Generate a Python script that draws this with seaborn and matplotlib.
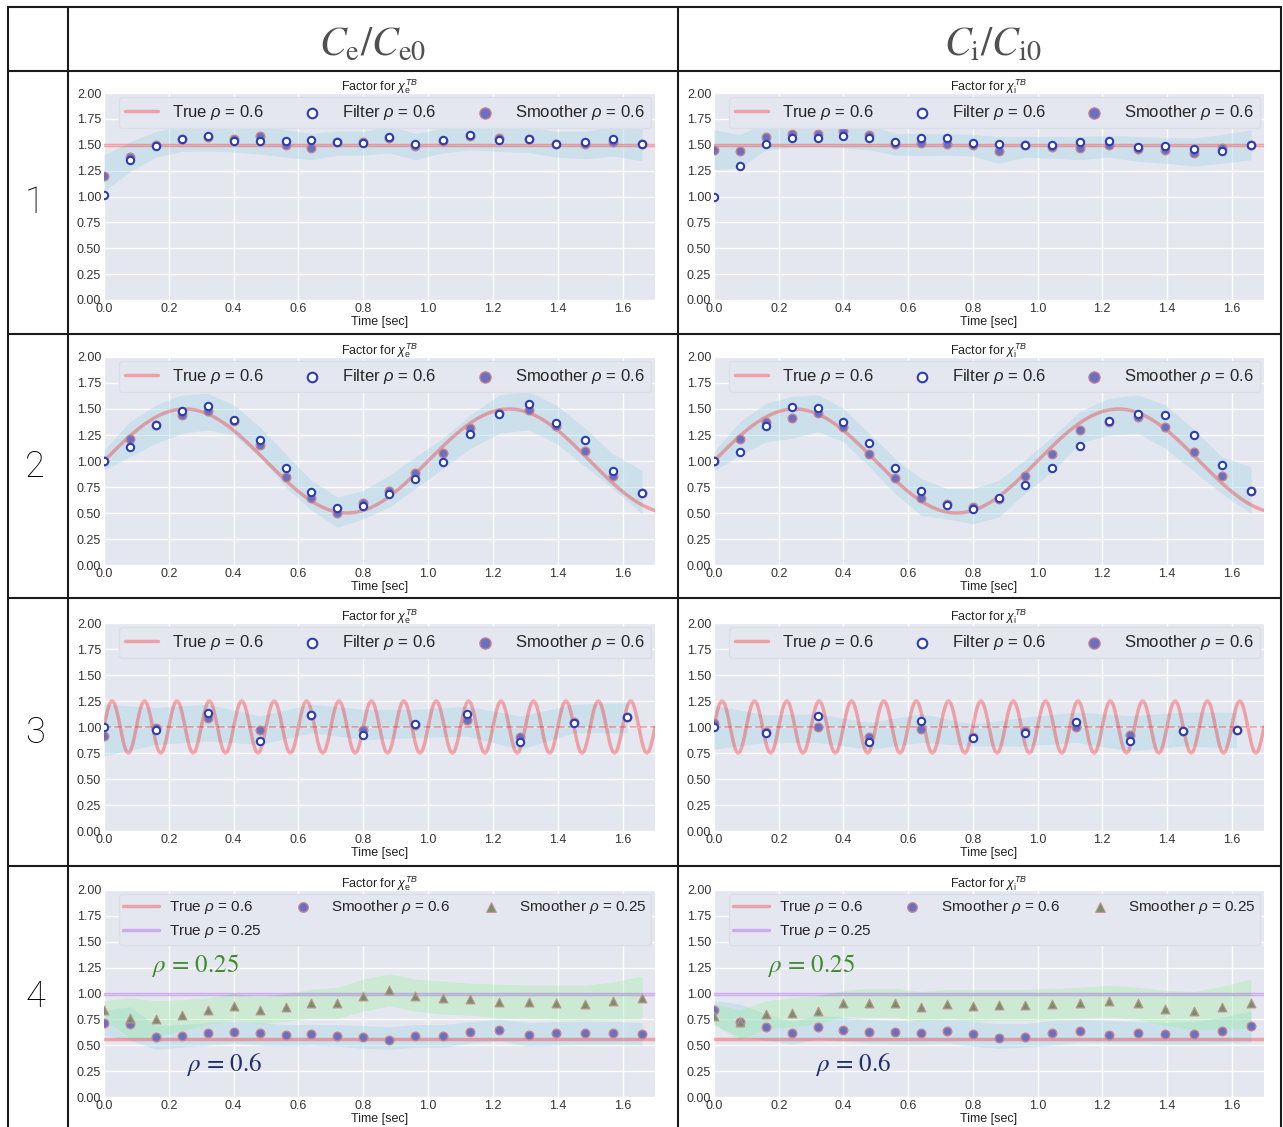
import numpy as np
import matplotlib
matplotlib.use("Agg")
import matplotlib.pyplot as plt
import seaborn as sns
from matplotlib.lines import Line2D

# ---------------- data ----------------
T21 = [0.0, 0.08, 0.16, 0.24, 0.32, 0.40, 0.48, 0.56, 0.64, 0.72, 0.80, 0.88,
       0.96, 1.045, 1.13, 1.22, 1.31, 1.395, 1.485, 1.57, 1.66]
T11 = [0.0, 0.16, 0.32, 0.48, 0.64, 0.80, 0.96, 1.12, 1.285, 1.45, 1.615]

# Row 1 (constant 1.5)
R1E_FILT = [1.01, 1.355, 1.485, 1.56, 1.587, 1.535, 1.535, 1.54, 1.545, 1.525, 1.513,
            1.575, 1.505, 1.548, 1.59, 1.548, 1.56, 1.51, 1.53, 1.555, 1.505]
R1E_SMO = [1.20, 1.38, 1.50, 1.56, 1.575, 1.56, 1.585, 1.50, 1.465, 1.525, 1.525,
           1.565, 1.487, 1.54, 1.585, 1.568, 1.56, 1.505, 1.51, 1.525, 1.505]
R1E_LO = [1.05, 1.24, 1.38, 1.435, 1.44, 1.43, 1.41, 1.38, 1.355, 1.40, 1.40,
          1.42, 1.355, 1.42, 1.45, 1.435, 1.425, 1.38, 1.365, 1.39, 1.345]
R1E_HI = [1.40, 1.53, 1.63, 1.68, 1.68, 1.68, 1.70, 1.645, 1.61, 1.635, 1.63,
          1.68, 1.61, 1.66, 1.69, 1.68, 1.67, 1.63, 1.63, 1.68, 1.66]

R1I_FILT = [1.00, 1.297, 1.505, 1.57, 1.565, 1.587, 1.565, 1.53, 1.568, 1.565, 1.516,
            1.51, 1.497, 1.50, 1.53, 1.54, 1.48, 1.49, 1.458, 1.435, 1.50]
R1I_SMO = [1.45, 1.44, 1.575, 1.60, 1.60, 1.63, 1.597, 1.51, 1.513, 1.51, 1.50,
           1.435, 1.497, 1.477, 1.47, 1.50, 1.46, 1.45, 1.42, 1.468, 1.50]
R1I_LO = [1.26, 1.275, 1.45, 1.475, 1.48, 1.47, 1.45, 1.40, 1.395, 1.40, 1.39,
          1.32, 1.38, 1.37, 1.355, 1.38, 1.34, 1.32, 1.295, 1.32, 1.355]
R1I_HI = [1.645, 1.60, 1.71, 1.72, 1.72, 1.72, 1.69, 1.61, 1.61, 1.61, 1.60,
          1.58, 1.58, 1.58, 1.58, 1.59, 1.58, 1.57, 1.565, 1.60, 1.645]

# Row 2 (slow sinusoid)
R2E_FILT = [1.00, 1.137, 1.35, 1.478, 1.533, 1.395, 1.198, 0.934, 0.705, 0.551, 0.57,
            0.68, 0.824, 0.995, 1.26, 1.452, 1.552, 1.369, 1.198, 0.90, 0.696]
R2E_SMO = [1.00, 1.21, 1.346, 1.443, 1.485, 1.388, 1.153, 0.844, 0.641, 0.502, 0.596,
           0.712, 0.886, 1.076, 1.317, 1.459, 1.49, 1.337, 1.092, 0.853, 0.696]
R2E_LO = [0.91, 1.04, 1.17, 1.265, 1.30, 1.25, 1.04, 0.75, 0.525, 0.364, 0.444,
          0.557, 0.734, 0.927, 1.12, 1.266, 1.30, 1.17, 0.944, 0.734, 0.49]
R2E_HI = [1.105, 1.38, 1.54, 1.635, 1.65, 1.54, 1.33, 1.07, 0.815, 0.654, 0.718,
          0.863, 1.04, 1.217, 1.443, 1.636, 1.668, 1.54, 1.314, 1.07, 0.91]

R2I_FILT = [1.00, 1.082, 1.34, 1.523, 1.51, 1.378, 1.176, 0.931, 0.712, 0.573, 0.541,
            0.644, 0.773, 0.928, 1.147, 1.388, 1.456, 1.446, 1.25, 0.96, 0.712]
R2I_SMO = [1.00, 1.21, 1.372, 1.417, 1.459, 1.33, 1.069, 0.837, 0.644, 0.589, 0.557,
           0.631, 0.853, 1.069, 1.301, 1.378, 1.427, 1.33, 1.085, 0.857, 0.712]
R2I_LO = [0.905, 1.056, 1.185, 1.217, 1.282, 1.185, 0.944, 0.686, 0.477, 0.444, 0.396,
          0.46, 0.686, 0.895, 1.17, 1.25, 1.266, 1.12, 0.895, 0.686, 0.493]
R2I_HI = [1.09, 1.38, 1.555, 1.62, 1.636, 1.507, 1.266, 1.024, 0.83, 0.734, 0.734,
          0.815, 1.008, 1.233, 1.475, 1.604, 1.636, 1.54, 1.30, 1.04, 0.944]

# Row 3 (fast sinusoid)
R3E_FILT = [1.00, 0.968, 1.135, 0.865, 1.116, 0.923, 1.032, 1.123, 0.858, 1.035, 1.10]
R3E_SMO = [0.916, 0.994, 1.084, 0.971, 1.113, 0.968, 1.016, 1.065, 0.903, 1.052, 1.10]
R3E_LO = [0.72, 0.832, 0.865, 0.832, 0.945, 0.88, 0.897, 0.913, 0.784, 0.945, 0.945]
R3E_HI = [1.22, 1.187, 1.22, 1.106, 1.22, 1.17, 1.17, 1.20, 1.106, 1.22, 1.235]

R3I_FILT = [1.00, 0.938, 1.11, 0.857, 1.058, 0.89, 0.938, 1.049, 0.867, 0.958, 0.974]
R3I_SMO = [1.04, 0.948, 1.003, 0.90, 0.98, 0.903, 0.958, 1.00, 0.922, 0.961, 0.974]
R3I_LO = [0.786, 0.851, 0.851, 0.786, 0.851, 0.818, 0.818, 0.851, 0.77, 0.818, 0.80]
R3I_HI = [1.208, 1.117, 1.127, 1.045, 1.127, 1.03, 1.094, 1.143, 1.11, 1.143, 1.143]

# Row 4 (two radii)
R4E_S06 = [0.714, 0.705, 0.584, 0.594, 0.614, 0.627, 0.614, 0.597, 0.604, 0.594, 0.578,
           0.549, 0.588, 0.588, 0.627, 0.646, 0.60, 0.617, 0.623, 0.623, 0.607]
R4E_S025 = [0.838, 0.763, 0.756, 0.792, 0.838, 0.88, 0.838, 0.867, 0.906, 0.909, 0.98,
            1.032, 0.974, 0.955, 0.948, 0.916, 0.916, 0.909, 0.90, 0.929, 0.961]
R4E_B_LO = [0.60, 0.55, 0.46, 0.48, 0.50, 0.52, 0.50, 0.49, 0.50, 0.49, 0.47,
            0.46, 0.48, 0.48, 0.52, 0.54, 0.49, 0.50, 0.51, 0.51, 0.50]
R4E_B_HI = [0.84, 0.87, 0.69, 0.70, 0.72, 0.73, 0.72, 0.70, 0.70, 0.70, 0.69,
            0.68, 0.70, 0.70, 0.73, 0.75, 0.72, 0.73, 0.73, 0.73, 0.72]
R4E_G_LO = [0.75, 0.57, 0.58, 0.64, 0.70, 0.74, 0.71, 0.73, 0.76, 0.76, 0.83,
            0.88, 0.83, 0.80, 0.79, 0.76, 0.76, 0.75, 0.74, 0.75, 0.75]
R4E_G_HI = [0.93, 0.96, 0.93, 0.94, 0.96, 1.00, 0.97, 1.00, 1.04, 1.06, 1.14,
            1.19, 1.14, 1.12, 1.10, 1.09, 1.08, 1.08, 1.08, 1.11, 1.17]

R4I_S06 = [0.838, 0.724, 0.675, 0.617, 0.679, 0.649, 0.63, 0.627, 0.623, 0.633, 0.607,
           0.568, 0.575, 0.617, 0.64, 0.60, 0.617, 0.604, 0.607, 0.633, 0.682]
R4I_S025 = [0.78, 0.72, 0.805, 0.812, 0.834, 0.909, 0.909, 0.909, 0.867, 0.90, 0.883,
            0.893, 0.89, 0.90, 0.912, 0.932, 0.909, 0.854, 0.828, 0.867, 0.906]
R4I_B_LO = [0.70, 0.58, 0.55, 0.51, 0.56, 0.54, 0.52, 0.51, 0.51, 0.52, 0.49,
            0.47, 0.48, 0.50, 0.53, 0.52, 0.52, 0.51, 0.51, 0.52, 0.53]
R4I_B_HI = [0.93, 0.90, 0.80, 0.73, 0.79, 0.77, 0.75, 0.74, 0.74, 0.75, 0.73,
            0.71, 0.71, 0.74, 0.75, 0.74, 0.73, 0.72, 0.73, 0.77, 0.83]
R4I_G_LO = [0.70, 0.55, 0.66, 0.68, 0.70, 0.78, 0.77, 0.77, 0.73, 0.76, 0.73,
            0.74, 0.74, 0.75, 0.76, 0.77, 0.75, 0.69, 0.65, 0.66, 0.66]
R4I_G_HI = [0.90, 0.84, 0.93, 0.96, 0.98, 1.03, 1.05, 1.05, 1.02, 1.04, 1.04,
            1.04, 1.04, 1.05, 1.06, 1.08, 1.06, 1.03, 1.02, 1.07, 1.14]

# true-profile parameters
TRUE_CONST = 1.5
TRUE_SLOW_MEAN, TRUE_SLOW_AMP, TRUE_SLOW_PERIOD = 1.0, 0.5, 1.0
TRUE_FAST_MEAN, TRUE_FAST_AMP, TRUE_FAST_PERIOD = 1.0, 0.25, 0.1
TRUE_R06 = 0.565
TRUE_R025 = 1.0

XTICKS = [0.0, 0.2, 0.4, 0.6, 0.8, 1.0, 1.2, 1.4, 1.6]
YTICKS = [0.0, 0.25, 0.5, 0.75, 1.0, 1.25, 1.5, 1.75, 2.0]
COL_HEADERS = [r"$C_{\mathrm{e}}/C_{\mathrm{e0}}$", r"$C_{\mathrm{i}}/C_{\mathrm{i0}}$"]
ROW_LABELS = ["1", "2", "3", "4"]
TITLES = [r"Factor for $\chi_{\mathrm{e}}^{TB}$", r"Factor for $\chi_{\mathrm{i}}^{TB}$"]

# ---------------- style ----------------
sns.set_theme(style="darkgrid")
plt.rcParams["font.family"] = ["Liberation Sans", "DejaVu Sans"]
plt.rcParams["mathtext.fontset"] = "custom"
plt.rcParams["mathtext.rm"] = "Liberation Sans"
plt.rcParams["mathtext.it"] = "Liberation Sans:italic"
plt.rcParams["mathtext.bf"] = "Liberation Sans:bold"

BG = "#E5E7F0"
FILTER_C = "#2A3DB5"
SMOOTH_FC = "#6870C2"
SMOOTH_EC = "#C8808F"
TRI_FC = "#76906C"
TRI_EC = "#C49090"

W, H = 1283, 1127
fig = plt.figure(figsize=(W / 100, H / 100), dpi=100)
fig.patch.set_facecolor("white")


def ax_at(x0, y0, x1, y1):
    return fig.add_axes([x0 / W, 1 - y1 / H, (x1 - x0) / W, (y1 - y0) / H])


COLS_X = [(104, 655), (714, 1264)]
ROWS_Y = [(93, 300), (357, 565), (623, 831), (890, 1097)]

TGRID = np.linspace(0, 1.7, 800)


def style_ax(ax, title):
    ax.set_facecolor(BG)
    ax.set_xlim(0, 1.7)
    ax.set_ylim(0, 2)
    ax.set_xticks(XTICKS)
    ax.set_xticklabels([f"{v:.1f}" for v in XTICKS])
    ax.set_yticks(YTICKS)
    ax.set_yticklabels([f"{v:.2f}" for v in YTICKS])
    ax.tick_params(labelsize=9, pad=2, length=0, colors="#333333")
    ax.grid(color="white", lw=1.0)
    ax.set_axisbelow(True)
    ax.set_title(title, fontsize=9, pad=2, color="#222222")
    ax.set_xlabel("Time [sec]", fontsize=9, labelpad=1, color="#222222")
    ax.set_ylabel("")
    for s in ax.spines.values():
        s.set_visible(False)


LEG_EDGE = "#DCDDE6"


def panel(ax, t, filt, smo, lo, hi, true_y, title, dashed=False):
    ax.fill_between(t, lo, hi, color="lightblue", alpha=0.45, lw=0, zorder=1)
    sns.lineplot(x=TGRID, y=true_y, ax=ax, color="red", alpha=0.3, lw=2.5,
                 estimator=None, label=r"True $\rho$ = 0.6", zorder=2)
    if dashed:
        ax.axhline(TRUE_FAST_MEAN, ls="--", color="red", alpha=0.3, lw=1.4, zorder=2)
    sns.scatterplot(x=t, y=smo, ax=ax, s=38, color=SMOOTH_FC, edgecolor=SMOOTH_EC,
                    linewidth=1.0, label=r"Smoother $\rho$ = 0.6", zorder=3)
    sns.scatterplot(x=t, y=filt, ax=ax, s=28, color="white", edgecolor=FILTER_C,
                    linewidth=1.5, label=r"Filter $\rho$ = 0.6", zorder=4)
    style_ax(ax, title)
    h, l = ax.get_legend_handles_labels()
    d = dict(zip(l, h))
    order = [r"True $\rho$ = 0.6", r"Filter $\rho$ = 0.6", r"Smoother $\rho$ = 0.6"]
    ax.legend([d[k] for k in order], order, ncol=3, loc="upper left",
              bbox_to_anchor=(0.02, 1.0, 0.98, 0.0), mode="expand",
              fontsize=12, handlelength=2.0, handletextpad=0.8, markerscale=1.3,
              frameon=True, facecolor=BG, edgecolor=LEG_EDGE, framealpha=1,
              borderpad=0.35, borderaxespad=0.25)


def panel4(ax, s06, s025, blo, bhi, glo, ghi, title, txt25, txt06):
    ax.fill_between(T21, blo, bhi, color="lightblue", alpha=0.45, lw=0, zorder=1)
    ax.fill_between(T21, glo, ghi, color="lightgreen", alpha=0.3, lw=0, zorder=1)
    sns.lineplot(x=[0, 1.7], y=[TRUE_R06, TRUE_R06], ax=ax, color="red", alpha=0.3,
                 lw=2.5, estimator=None, label=r"True $\rho$ = 0.6", zorder=2)
    sns.lineplot(x=[0, 1.7], y=[TRUE_R025, TRUE_R025], ax=ax, color="blueviolet",
                 alpha=0.3, lw=2.5, estimator=None, label=r"True $\rho$ = 0.25", zorder=2)
    sns.scatterplot(x=T21, y=s06, ax=ax, s=38, color=SMOOTH_FC, edgecolor=SMOOTH_EC,
                    linewidth=1.0, label=r"Smoother $\rho$ = 0.6", zorder=3)
    sns.scatterplot(x=T21, y=s025, ax=ax, s=40, marker="^", color=TRI_FC,
                    edgecolor=TRI_EC, linewidth=0.8, label=r"Smoother $\rho$ = 0.25", zorder=3)
    style_ax(ax, title)
    h, l = ax.get_legend_handles_labels()
    d = dict(zip(l, h))
    order = [r"True $\rho$ = 0.6", r"True $\rho$ = 0.25", r"Smoother $\rho$ = 0.6",
             r"Smoother $\rho$ = 0.25"]
    ax.legend([d[k] for k in order], order, ncol=3, loc="upper left",
              bbox_to_anchor=(0.02, 1.0, 0.98, 0.0), mode="expand",
              fontsize=11, handlelength=2.3, handletextpad=0.7, markerscale=1.1,
              frameon=True, facecolor=BG, edgecolor=LEG_EDGE, framealpha=1,
              borderpad=0.3, borderaxespad=0.25, labelspacing=0.45)
    ax.text(txt25[0], txt25[1], r"$\rho\,=\,0.25$", math_fontfamily="stix",
            fontsize=18, color="#3E8E2E", ha="center", va="center", zorder=6)
    ax.text(txt06[0], txt06[1], r"$\rho\,=\,0.6$", math_fontfamily="stix",
            fontsize=18, color="#1F2F6B", ha="center", va="center", zorder=6)


true_const = np.full_like(TGRID, TRUE_CONST)
true_slow = TRUE_SLOW_MEAN + TRUE_SLOW_AMP * np.sin(2 * np.pi * TGRID / TRUE_SLOW_PERIOD)
true_fast = TRUE_FAST_MEAN + TRUE_FAST_AMP * np.sin(2 * np.pi * TGRID / TRUE_FAST_PERIOD)

axes = [[ax_at(COLS_X[c][0], ROWS_Y[r][0], COLS_X[c][1], ROWS_Y[r][1]) for c in range(2)]
        for r in range(4)]

panel(axes[0][0], T21, R1E_FILT, R1E_SMO, R1E_LO, R1E_HI, true_const, TITLES[0])
panel(axes[0][1], T21, R1I_FILT, R1I_SMO, R1I_LO, R1I_HI, true_const, TITLES[1])
panel(axes[1][0], T21, R2E_FILT, R2E_SMO, R2E_LO, R2E_HI, true_slow, TITLES[0])
panel(axes[1][1], T21, R2I_FILT, R2I_SMO, R2I_LO, R2I_HI, true_slow, TITLES[1])
panel(axes[2][0], T11, R3E_FILT, R3E_SMO, R3E_LO, R3E_HI, true_fast, TITLES[0], dashed=True)
panel(axes[2][1], T11, R3I_FILT, R3I_SMO, R3I_LO, R3I_HI, true_fast, TITLES[1], dashed=True)
panel4(axes[3][0], R4E_S06, R4E_S025, R4E_B_LO, R4E_B_HI, R4E_G_LO, R4E_G_HI, TITLES[0],
       (0.28, 1.27), (0.37, 0.31))
panel4(axes[3][1], R4I_S06, R4I_S025, R4I_B_LO, R4I_B_HI, R4I_G_LO, R4I_G_HI, TITLES[1],
       (0.30, 1.27), (0.43, 0.31))

# ---------------- table frame ----------------
LINE_C = "#1a1a1a"
for x in [8, 68, 678, 1281]:
    fig.add_artist(Line2D([x / W, x / W], [1 - 7 / H, 0], color=LINE_C, lw=1.5))
for y in [7, 71, 334, 598, 866]:
    fig.add_artist(Line2D([8 / W, 1281 / W], [1 - y / H, 1 - y / H], color=LINE_C, lw=1.5))

fig.text(373 / W, 1 - 44 / H, COL_HEADERS[0], math_fontfamily="stix", fontsize=29,
         ha="center", va="center", color="#505050")
fig.text(993 / W, 1 - 44 / H, COL_HEADERS[1], math_fontfamily="stix", fontsize=29,
         ha="center", va="center", color="#505050")

for lab, yc in zip(ROW_LABELS, [203, 467, 733, 997]):
    fig.text(35 / W, 1 - yc / H, lab, fontsize=26, family=["Roboto", "DejaVu Sans"],
             weight="light", ha="center", va="center", color="#000000")

fig.savefig("out.png", dpi=100, facecolor="white")
